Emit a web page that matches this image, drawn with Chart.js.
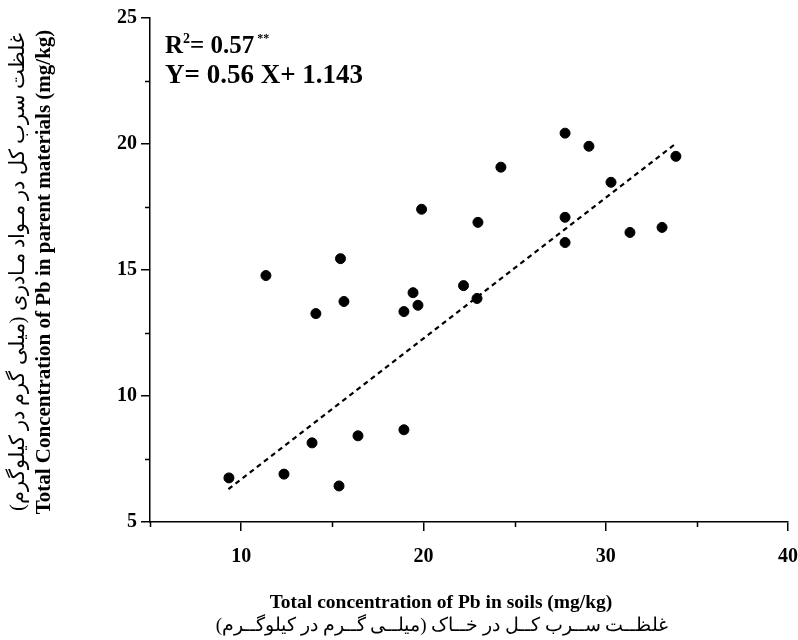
<!DOCTYPE html>
<html>
<head>
<meta charset="utf-8">
<script src="https://cdn.jsdelivr.net/npm/chart.js@4/dist/chart.umd.min.js"></script>
<style>
  html, body { margin: 0; padding: 0; background: #fff; }
  #wrap { width: 798px; height: 640px; }
</style>
</head>
<body>
<div id="wrap"><canvas id="chartOne" width="798" height="640"></canvas></div>
<script>
// values
var soilPb = [9.33, 12.35, 13.89, 15.37, 16.41, 18.93, 11.36, 14.1, 15.45, 15.64, 18.93, 19.43, 19.7,
              22.2, 22.94, 19.9, 22.99, 24.25, 27.77, 27.77, 27.77, 29.08, 30.29, 31.33, 33.09, 33.85];
var parentPb = [6.75, 6.9, 8.14, 6.43, 8.42, 8.66, 14.78, 13.27, 15.45, 13.75, 13.35, 14.1, 13.6,
                14.38, 13.87, 17.41, 16.89, 19.08, 20.43, 17.09, 16.09, 19.91, 18.48, 16.49, 16.69, 19.51];
// ends of the dashed fit line
var fitX = [9.3, 33.9];
var fitY = [6.3, 20.05];

var xTicks = [10, 20, 30, 40];
var xMinorTicks = [5, 15, 25, 35];
var yTicks = [5, 10, 15, 20, 25];
var yMinorTicks = [7.5, 12.5, 17.5, 22.5];

var xTitle = 'Total concentration of Pb in soils (mg/kg)';
var xTitleFa = 'غلظــت ســرب کــل در خــاک (میلــی گــرم در کیلوگــرم)';
var yTitle = 'Total Concentration of Pb in parent materials (mg/kg)';
var yTitleFa = 'غلظت سرب کل در مـواد مـادری (میلی گرم در کیلوگرم)';

var serif = '"Liberation Serif", "Times New Roman", serif';

var points = soilPb.map((x, i) => ({ x: x, y: parentPb[i] }));
var fitLine = fitX.map((x, i) => ({ x: x, y: fitY[i] }));

// short ticks + texts
const extras = {
    id: 'extras',
    afterDraw(chart) {
        const ctx = chart.ctx;
        const xs = chart.scales.x;
        const ys = chart.scales.y;
        ctx.save();
        ctx.strokeStyle = '#000';
        ctx.lineWidth = 1.5;
        ctx.beginPath();
        xMinorTicks.forEach((v) => {
            var px = Math.round(xs.getPixelForValue(v)) + 0.5;
            ctx.moveTo(px, xs.top);
            ctx.lineTo(px, xs.top + 5);
        });
        yMinorTicks.forEach((v) => {
            var py = Math.round(ys.getPixelForValue(v)) + 0.5;
            ctx.moveTo(ys.right, py);
            ctx.lineTo(ys.right - 5, py);
        });
        ctx.stroke();

        ctx.fillStyle = '#000';
        // equation
        var x0 = 165;
        ctx.textBaseline = 'alphabetic';
        ctx.textAlign = 'left';
        ctx.font = 'bold 25px ' + serif;
        ctx.fillText('R', x0, 53);
        var w = ctx.measureText('R').width;
        ctx.font = 'bold 14px ' + serif;
        ctx.fillText('2', x0 + w, 43);
        w += ctx.measureText('2').width;
        ctx.font = 'bold 25px ' + serif;
        ctx.fillText('= 0.57', x0 + w, 53);
        w += ctx.measureText('= 0.57').width;
        ctx.font = 'bold 12px ' + serif;
        ctx.fillText('**', x0 + w + 3, 42);
        ctx.font = 'bold 27px ' + serif;
        ctx.fillText('Y= 0.56 X+ 1.143', x0, 83);

        // x titles
        ctx.textAlign = 'center';
        ctx.font = 'bold 19.5px ' + serif;
        ctx.fillText(xTitle, 441, 608);
        ctx.font = '19px ' + serif;
        ctx.fillText(xTitleFa, 442, 631);

        // y titles
        ctx.translate(0, 272);
        ctx.rotate(-Math.PI / 2);
        ctx.font = 'bold 21px ' + serif;
        ctx.fillText(yTitle, 0, 50);
        ctx.font = '21px ' + serif;
        ctx.fillText(yTitleFa, 0, 24);
        ctx.restore();
    }
};

var chartOne = document.getElementById('chartOne');
var myChart = new Chart(chartOne, {
    type: 'scatter',
    data: {
        datasets: [{
            label: 'Pb',
            data: points,
            backgroundColor: '#000',
            borderColor: '#000',
            pointRadius: 5,
            pointHoverRadius: 5
        }, {
            label: 'fit',
            type: 'line',
            data: fitLine,
            borderColor: '#000',
            borderWidth: 2.2,
            borderDash: [5, 4],
            pointRadius: 0,
            fill: false
        }]
    },
    options: {
        responsive: false,
        animation: false,
        layout: { padding: { left: 0, top: 18, right: 10, bottom: 0 } },
        plugins: {
            legend: { display: false },
            tooltip: { enabled: false }
        },
        scales: {
            x: {
                type: 'linear',
                min: 5,
                max: 40,
                afterBuildTicks: (axis) => { axis.ticks = xTicks.map((v) => ({ value: v })); },
                afterFit: (axis) => { axis.height = 118; axis.paddingRight = 0; axis.paddingLeft = 0; },
                border: { color: '#000', width: 1.5 },
                grid: { drawOnChartArea: false, drawTicks: true, tickLength: 9, color: '#000', lineWidth: 1.5 },
                ticks: { color: '#000', padding: 14, maxRotation: 0, font: { family: serif, size: 20, weight: 'bold' } }
            },
            y: {
                type: 'linear',
                min: 5,
                max: 25,
                afterBuildTicks: (axis) => { axis.ticks = yTicks.map((v) => ({ value: v })); },
                afterFit: (axis) => { axis.width = 150; axis.paddingTop = 0; axis.paddingBottom = 0; },
                border: { color: '#000', width: 1.5 },
                grid: { drawOnChartArea: false, drawTicks: true, tickLength: 9, color: '#000', lineWidth: 1.5 },
                ticks: { color: '#000', padding: 4, font: { family: serif, size: 20, weight: 'bold' } }
            }
        }
    },
    plugins: [extras]
});
</script>
</body>
</html>
